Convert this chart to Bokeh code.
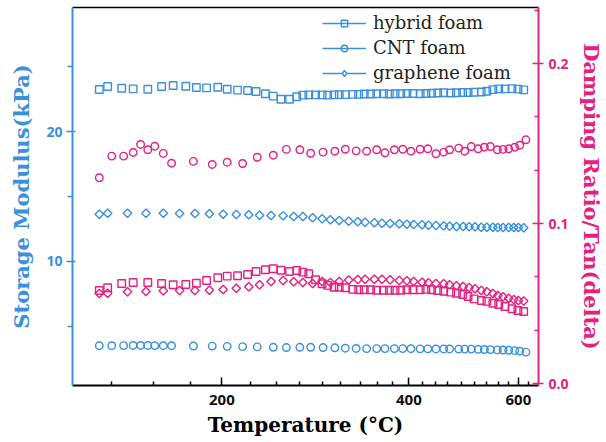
import math
from bokeh.plotting import figure
from bokeh.models import (Range1d, LinearAxis, FixedTicker, PrintfTickFormatter,
                          Legend, LegendItem)
from bokeh.embed import file_html
from bokeh.resources import INLINE

# ---------------- data ----------------
hybrid_T = [127, 131, 138, 144, 152, 160, 167, 175, 182, 189, 197, 204, 212, 220, 227, 235, 242, 249, 257,
            264, 270, 276, 283, 290, 296, 303, 309, 316, 325, 332, 339, 347, 355, 364, 372, 380, 388, 397, 406,
            417, 426, 435, 445, 455, 467, 477, 488, 498, 509, 523, 534, 546, 558, 571, 586, 599, 612]
hybrid_storage = [23.23, 23.46, 23.33, 23.28, 23.25, 23.46, 23.54, 23.48, 23.38, 23.36, 23.41, 23.25, 23.18,
                  23.15, 23.08, 22.90, 22.72, 22.48, 22.48,
                  22.67, 22.80, 22.82, 22.82, 22.82, 22.80, 22.82, 22.84, 22.84, 22.86, 22.86, 22.88, 22.88,
                  22.90, 22.90, 22.88, 22.90, 22.90, 22.92, 22.92, 22.90, 22.92, 22.94, 22.96, 22.98, 22.96,
                  22.98, 23.00, 23.00, 23.02, 23.04, 23.10, 23.22, 23.28, 23.28, 23.30, 23.26, 23.20]
hybrid_damping = [0.0581, 0.0598, 0.0625, 0.0631, 0.0631, 0.0625, 0.0617, 0.0619, 0.0627, 0.0644, 0.0661,
                  0.0671, 0.0673, 0.0681, 0.0700, 0.0711, 0.0717, 0.0708, 0.0700,
                  0.0706, 0.0696, 0.0686, 0.0648, 0.0623, 0.0613, 0.0602, 0.0602, 0.0598, 0.0588, 0.0586,
                  0.0586, 0.0586, 0.0583, 0.0583, 0.0583, 0.0583, 0.0583, 0.0586, 0.0586, 0.0586, 0.0588,
                  0.0586, 0.0581, 0.0577, 0.0571, 0.0564, 0.0556, 0.0544, 0.0529, 0.0519, 0.0513, 0.0502,
                  0.0494, 0.0481, 0.0467, 0.0456, 0.0450]

cnt_T = [127, 133, 139, 144, 148, 152, 156, 161, 166, 180, 193, 204, 216, 228, 242, 254, 267, 278, 291, 304,
         316, 329, 342, 355, 366, 379, 391, 403, 417, 429, 442, 455, 465, 481, 492, 504, 517, 529, 541, 555,
         567, 579, 592, 603, 617]
cnt_storage = [3.52, 3.52, 3.53, 3.54, 3.54, 3.54, 3.53, 3.52, 3.52, 3.50, 3.49, 3.47, 3.45, 3.43, 3.40,
               3.38, 3.40, 3.40, 3.38, 3.36, 3.33, 3.31, 3.30, 3.30, 3.30, 3.30, 3.30, 3.29, 3.28, 3.28,
               3.27, 3.27, 3.27, 3.26, 3.26, 3.26, 3.24, 3.23, 3.22, 3.20, 3.19, 3.17, 3.14, 3.10, 3.03]
cnt_damping = [0.1286, 0.1421, 0.1421, 0.1444, 0.1494, 0.1461, 0.1483, 0.1438, 0.1377, 0.1388, 0.1369,
               0.1383, 0.1375, 0.1414, 0.1427, 0.1463,
               0.1461, 0.1439, 0.1446, 0.1452, 0.1464, 0.1454, 0.1452, 0.1461, 0.1442, 0.1461, 0.1464,
               0.1452, 0.1464, 0.1467, 0.1436, 0.1446, 0.1461, 0.1471, 0.1452, 0.1481, 0.1467, 0.1477,
               0.1481, 0.1461, 0.1463, 0.1467, 0.1477, 0.1489, 0.1523]

graphene_T = [127, 131, 141, 151, 161, 171, 181, 191, 201, 211, 221, 230, 240, 251, 261,
              270, 280, 290, 299, 309, 320, 331, 340, 352, 362, 373, 386, 397, 407, 420, 430, 442, 455,
              465, 477, 489, 500, 511, 523, 534, 546, 556, 567, 579, 590, 600, 612]
graphene_storage = [13.64, 13.72, 13.72, 13.72, 13.72, 13.69, 13.69, 13.67, 13.64, 13.62, 13.59, 13.56,
                    13.54, 13.51, 13.46,
                    13.46, 13.36, 13.28, 13.21, 13.15, 13.10, 13.05, 13.02, 12.98, 12.95, 12.92, 12.90,
                    12.87, 12.85, 12.82, 12.79, 12.77, 12.74, 12.72, 12.69, 12.69, 12.67, 12.67, 12.64,
                    12.64, 12.64, 12.62, 12.62, 12.62, 12.62, 12.62, 12.59]
graphene_damping = [0.0563, 0.0564, 0.0573, 0.0575, 0.0579, 0.0581, 0.0581, 0.0583, 0.0588, 0.0596, 0.0604,
                    0.0617, 0.0638, 0.0644, 0.0636,
                    0.0631, 0.0625, 0.0638, 0.0631, 0.0638, 0.0647, 0.0650, 0.0652, 0.0652, 0.0652, 0.0648,
                    0.0644, 0.0642, 0.0638, 0.0633, 0.0629, 0.0625, 0.0623, 0.0617, 0.0611, 0.0606, 0.0600,
                    0.0592, 0.0581, 0.0573, 0.0563, 0.0550, 0.0542, 0.0533, 0.0525, 0.0519, 0.0516]

legend_labels = ["hybrid foam", "CNT foam", "graphene foam"]
x_major_ticks = [200, 400, 600]
x_minor_ticks = [133, 155, 178, 222, 245, 267, 290, 310, 334, 356, 376, 421, 441, 462, 486, 510, 533, 558,
                 579, 624]
left_major_ticks = [10, 20]
left_minor_ticks = [5, 15, 25]
right_major_ticks = [0.0, 0.1, 0.2]
right_minor_ticks = [0.0333, 0.0667, 0.1333, 0.1667, 0.2333]

# ---------------- style ----------------
BLUE = "#3b8fdd"
PINK = "#e3217f"
TICK_FONT = "Open Sans"
TITLE_FONT = "DejaVu Serif"

p = figure(width=606, height=442, x_axis_type="log",
           x_range=Range1d(115, 646.5), y_range=Range1d(0.46, 29.54),
           output_backend="svg", toolbar_location=None,
           min_border_left=72, min_border_right=63, min_border_top=7, min_border_bottom=57)
p.outline_line_color = None
p.xgrid.visible = False
p.ygrid.visible = False
p.background_fill_color = "white"
p.border_fill_color = "white"
p.extra_y_ranges = {"damp": Range1d(-0.00125, 0.235)}

# bottom axis
xa = p.xaxis[0]
xa.ticker = FixedTicker(ticks=x_major_ticks, minor_ticks=x_minor_ticks)
xa.formatter = PrintfTickFormatter(format="%d")
xa.axis_label = "Temperature (°C)"
xa.axis_label_text_font = TITLE_FONT
xa.axis_label_text_font_style = "bold"
xa.axis_label_text_font_size = "20px"
xa.axis_label_text_color = "black"
xa.axis_label_standoff = 5
xa.major_label_text_font = TICK_FONT
xa.major_label_text_font_style = "bold"
xa.major_label_text_font_size = "15px"
xa.major_label_text_color = "#111111"
xa.major_label_standoff = 9
xa.axis_line_color = "black"
xa.axis_line_width = 2
xa.major_tick_line_color = "black"
xa.major_tick_line_width = 1.5
xa.major_tick_in = 8
xa.major_tick_out = 0
xa.minor_tick_line_color = "black"
xa.minor_tick_line_width = 1.5
xa.minor_tick_in = 4
xa.minor_tick_out = 0

# left axis
ya = p.yaxis[0]
ya.ticker = FixedTicker(ticks=left_major_ticks, minor_ticks=left_minor_ticks)
ya.axis_label = "Storage Modulus(kPa)"
ya.axis_label_text_font = TITLE_FONT
ya.axis_label_text_font_style = "bold"
ya.axis_label_text_font_size = "21px"
ya.axis_label_text_color = BLUE
ya.axis_label_standoff = 9
ya.major_label_text_font = TICK_FONT
ya.major_label_text_font_style = "bold"
ya.major_label_text_font_size = "14px"
ya.major_label_text_color = BLUE
ya.major_label_standoff = 4
ya.axis_line_color = BLUE
ya.axis_line_width = 2
ya.major_tick_line_color = BLUE
ya.major_tick_line_width = 1.5
ya.major_tick_in = 3
ya.major_tick_out = 6
ya.minor_tick_line_color = BLUE
ya.minor_tick_line_width = 1.5
ya.minor_tick_in = 0
ya.minor_tick_out = 5

# right axis
ra = LinearAxis(y_range_name="damp",
                ticker=FixedTicker(ticks=right_major_ticks, minor_ticks=right_minor_ticks),
                formatter=PrintfTickFormatter(format="%.1f"))
ra.axis_label = "Damping Ratio/Tan(delta)"
ra.axis_label_text_font = TITLE_FONT
ra.axis_label_text_font_style = "bold"
ra.axis_label_text_font_size = "21px"
ra.axis_label_text_color = PINK
ra.axis_label_standoff = 7
ra.major_label_text_font = TICK_FONT
ra.major_label_text_font_style = "bold"
ra.major_label_text_font_size = "14px"
ra.major_label_text_color = PINK
ra.major_label_standoff = 5
ra.axis_line_color = PINK
ra.axis_line_width = 2
ra.major_tick_line_color = PINK
ra.major_tick_line_width = 1.5
ra.major_tick_in = 6
ra.major_tick_out = 5
ra.minor_tick_line_color = PINK
ra.minor_tick_line_width = 1.5
ra.minor_tick_in = 4
ra.minor_tick_out = 0
p.add_layout(ra, "right")

# top frame line
ta = LinearAxis(ticker=FixedTicker(ticks=[]), major_label_text_font_size="0px",
                major_tick_in=0, major_tick_out=0, minor_tick_in=0, minor_tick_out=0,
                major_label_standoff=0, axis_line_color="black", axis_line_width=1.5)
p.add_layout(ta, "above")

# ---------------- glyphs ----------------
LW = 1.4
r_h = p.scatter(hybrid_T, hybrid_storage, marker="square", size=7.5, line_color=BLUE,
                fill_color=None, line_width=LW)
r_c = p.scatter(cnt_T, cnt_storage, marker="circle", size=7.5, line_color=BLUE,
                fill_color=None, line_width=LW)
r_g = p.scatter(graphene_T, graphene_storage, marker="square", angle=math.pi / 4, size=6,
                line_color=BLUE, fill_color=None, line_width=LW)

p.scatter(hybrid_T, hybrid_damping, marker="square", size=7.5, line_color=PINK,
          fill_color=None, line_width=LW, y_range_name="damp")
p.scatter(cnt_T, cnt_damping, marker="circle", size=7.5, line_color=PINK,
          fill_color=None, line_width=LW, y_range_name="damp")
p.scatter(graphene_T, graphene_damping, marker="square", angle=math.pi / 4, size=6,
          line_color=PINK, fill_color=None, line_width=LW, y_range_name="damp")

# legend-only glyphs (a single NaN point: nothing is drawn in the plot area)
nan = float("nan")
leg_line = p.line([nan], [nan], line_color=BLUE, line_width=1.5)
leg_diamond = p.scatter([nan], [nan], marker="diamond", size=9, line_color=BLUE,
                        fill_color="white", line_width=LW)

legend = Legend(items=[LegendItem(label=legend_labels[0], renderers=[leg_line, r_h]),
                       LegendItem(label=legend_labels[1], renderers=[leg_line, r_c]),
                       LegendItem(label=legend_labels[2], renderers=[leg_line, leg_diamond])],
                location=(250, 302), glyph_width=44, glyph_height=16, label_height=16,
                spacing=4, padding=0, margin=0, label_standoff=7,
                border_line_color=None, background_fill_alpha=0,
                label_text_font=TITLE_FONT, label_text_font_size="18px",
                label_text_color="#222222")
p.add_layout(legend)

open("out.html", "w").write(file_html(p, INLINE))
